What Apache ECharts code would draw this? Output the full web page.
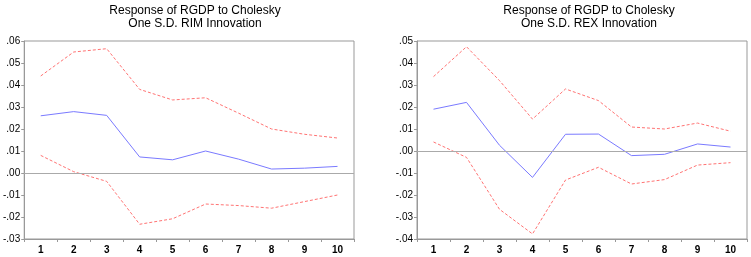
<!DOCTYPE html>
<html><head><meta charset="utf-8">
<script src="https://cdn.jsdelivr.net/npm/echarts@6/dist/echarts.min.js"></script>
<style>html,body{margin:0;padding:0;background:#fff}#c{width:751px;height:257px}</style>
</head><body><div id="c"></div>
<script>
var periods = ['1','2','3','4','5','6','7','8','9','10'];
var rimUpper = [0.0441, 0.0550, 0.0565, 0.0380, 0.0332, 0.0342, 0.0272, 0.0200, 0.0176, 0.0159];
var rimMid   = [0.0260, 0.0279, 0.0262, 0.0073, 0.0060, 0.0100, 0.0063, 0.0018, 0.0022, 0.0030];
var rimLower = [0.0080, 0.0006, -0.0038, -0.0233, -0.0208, -0.0141, -0.0148, -0.0160, -0.0130, -0.0100];
var rexUpper = [0.0338, 0.0474, 0.0320, 0.0145, 0.0282, 0.0229, 0.0109, 0.0100, 0.0127, 0.0090];
var rexMid   = [0.0190, 0.0221, 0.0026, -0.0120, 0.0076, 0.0077, -0.0021, -0.0015, 0.0032, 0.0018];
var rexLower = [0.0041, -0.0029, -0.0265, -0.0377, -0.0132, -0.0074, -0.0150, -0.0130, -0.0064, -0.0053];
var titles = ['Response of RGDP to Cholesky\nOne S.D. RIM Innovation', 'Response of RGDP to Cholesky\nOne S.D. REX Innovation'];

var FONT = 'Liberation Sans, Arial, sans-serif';
function fmt(v){
  var r = Math.round(v*100)/100;
  var s = Math.abs(r).toFixed(2).replace(/^0/, '');
  return (r < 0 ? '-' : '') + s;
}
function yAx(idx, mn, mx){
  return {gridIndex: idx, type:'value', min: mn, max: mx, interval: 0.01,
    axisLine:{show:true, lineStyle:{color:'#999', width:1}},
    axisTick:{show:true, length:3, lineStyle:{color:'#999'}},
    splitLine:{show:false},
    axisLabel:{formatter: fmt, color:'#000', fontSize:10, fontFamily:FONT, margin:4}};
}
function xAx(idx){
  return {gridIndex: idx, type:'category', data: periods, boundaryGap:true,
    axisLine:{show:true, onZero:false, lineStyle:{color:'#999', width:1}},
    axisTick:{show:true, length:3, inside:false, lineStyle:{color:'#999'}},
    axisLabel:{color:'#000', fontSize:10, fontFamily:FONT, fontWeight:'bold', margin:6}};
}
function band(name, data, idx){
  return {name:name, type:'line', xAxisIndex:idx, yAxisIndex:idx, data:data, symbol:'none',
    lineStyle:{color:'#ff7373', width:1, type:[3,2]}, silent:true, z:3};
}
function mid(name, data, idx){
  return {name:name, type:'line', xAxisIndex:idx, yAxisIndex:idx, data:data, symbol:'none',
    lineStyle:{color:'#7a7aff', width:1}, silent:true, z:4,
    markLine:{silent:true, symbol:'none', label:{show:false},
      lineStyle:{color:'#aaa', width:1, type:'solid'}, data:[{yAxis:0}]}};
}
var chart = echarts.init(document.getElementById('c'), null, {renderer:'canvas'});
chart.setOption({
  animation:false,
  backgroundColor:'#fff',
  title:[
    {text: titles[0], left:190, top:-1, textAlign:'center',
     textStyle:{fontSize:12, fontWeight:'normal', color:'#000', fontFamily:FONT, lineHeight:13}},
    {text: titles[1], left:584, top:-1, textAlign:'center',
     textStyle:{fontSize:12, fontWeight:'normal', color:'#000', fontFamily:FONT, lineHeight:13}}
  ],
  grid:[
    {left:24, top:41, width:330, height:198, show:true, borderColor:'#999', borderWidth:1, backgroundColor:'transparent'},
    {left:417, top:41, width:330, height:198, show:true, borderColor:'#999', borderWidth:1, backgroundColor:'transparent'}
  ],
  xAxis:[xAx(0), xAx(1)],
  yAxis:[yAx(0, -0.03, 0.06), yAx(1, -0.04, 0.05)],
  series:[
    band('RIM upper', rimUpper, 0), mid('RIM response', rimMid, 0), band('RIM lower', rimLower, 0),
    band('REX upper', rexUpper, 1), mid('REX response', rexMid, 1), band('REX lower', rexLower, 1)
  ]
});
</script></body></html>
